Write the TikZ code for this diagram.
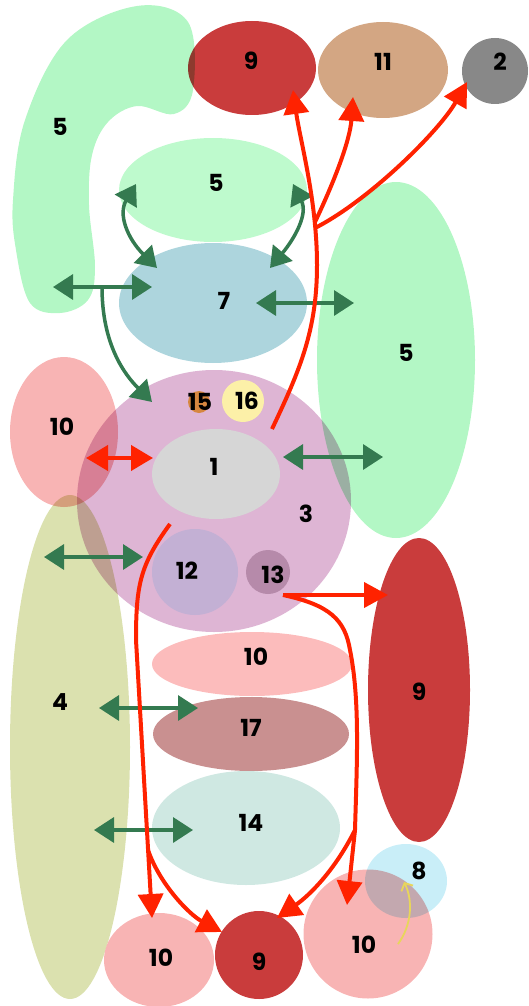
\documentclass[tikz,border=0pt]{standalone}
\usepackage{fontspec}
\setmainfont{Poppins}
\usetikzlibrary{shapes.geometric,arrows.meta}
\definecolor{mintA}{RGB}{179,247,197}
\definecolor{mintB}{RGB}{190,250,205}
\definecolor{redN}{RGB}{201,60,60}
\definecolor{tanN}{RGB}{211,166,131}
\definecolor{grayN}{RGB}{136,136,136}
\definecolor{blueN}{RGB}{173,213,221}
\definecolor{pinkN}{RGB}{248,180,180}
\definecolor{pinkM}{RGB}{252,188,188}
\definecolor{purpN}{RGB}{222,181,212}
\definecolor{yellN}{RGB}{252,240,168}
\definecolor{orgN}{RGB}{214,135,64}
\definecolor{lgrayN}{RGB}{214,214,214}
\definecolor{lavN}{RGB}{195,176,212}
\definecolor{mauvN}{RGB}{182,138,170}
\definecolor{roseN}{RGB}{201,144,144}
\definecolor{tealN}{RGB}{207,232,226}
\definecolor{oliveN}{RGB}{219,225,175}
\definecolor{skyN}{RGB}{201,238,248}
\definecolor{garrow}{RGB}{52,122,80}
\definecolor{rarrow}{RGB}{255,34,0}
\definecolor{yarrow}{RGB}{232,214,90}

\begin{document}
\begin{tikzpicture}[x=1pt,y=-1pt,
  region/.style={ellipse,inner sep=0pt},
  disc/.style={circle,inner sep=0pt},
  num/.style={font=\fontsize{23.5}{27}\selectfont\bfseries,inner sep=0pt},
  garr/.style={draw=garrow,line width=3.5pt,{Triangle[length=20pt,width=25pt]}-{Triangle[length=20pt,width=25pt]}},
  gone/.style={draw=garrow,line width=3.5pt,-{Triangle[length=20pt,width=25pt]}},
  rarr/.style={draw=rarrow,line width=4pt,-{Triangle[length=24pt,width=25pt]}},
  rtwo/.style={draw=rarrow,line width=4pt,{Triangle[length=22pt,width=25pt]}-{Triangle[length=22pt,width=25pt]}}]
  \useasboundingbox (0,0) rectangle (529,1006);

  % big overlapping areas
  \begin{scope}[blend mode=multiply]
    \fill[mintA] plot[smooth cycle,tension=0.6] coordinates {(67,40) (137,6) (188,22) (193,90) (174,114) (137,106) (108,122) (92,155) (89,205) (95,267) (88,300) (60,313) (30,303) (16,250) (13,200) (25,120)};
    \node[region,fill=redN,minimum width=128pt,minimum height=94pt] (nineTop) at (252,68) {};
    \node[region,fill=mintA,minimum width=158pt,minimum height=356pt] (fiveRight) at (396,360) {};
    \node[region,fill=purpN,minimum width=274pt,minimum height=262pt] (three) at (214,501) {};
    \node[region,fill=pinkN,minimum width=108pt,minimum height=150pt] (tenLeft) at (64,432) {};
    \node[region,fill=oliveN,minimum width=120pt,minimum height=504pt] (four) at (70,747) {};
    \node[disc,fill=pinkN,minimum size=129pt] (tenBR) at (368,934) {};
    \node[region,fill=skyN,minimum width=82pt,minimum height=74pt] (eight) at (406,881) {};
  \end{scope}

  % other areas
  \node[region,fill=tanN,minimum width=130pt,minimum height=96pt] (eleven) at (383,70) {};
  \node[disc,fill=grayN,minimum size=66pt] (two) at (495,71) {};
  \node[region,fill=mintB,minimum width=188pt,minimum height=104pt] (fiveMid) at (213,190) {};
  \node[region,fill=blueN,minimum width=188pt,minimum height=120pt] (seven) at (213,303) {};
  \node[disc,fill=yellN,minimum size=42pt] (sixteen) at (243,401) {};
  \node[disc,fill=orgN,minimum size=22pt] (fifteen) at (199,402) {};
  \node[region,fill=lgrayN,minimum width=128pt,minimum height=90pt] (one) at (216,474) {};
  \node[disc,fill=lavN,minimum size=86pt] (twelve) at (195,572) {};
  \node[disc,fill=mauvN,minimum size=44pt] (thirteen) at (268,572) {};
  \node[region,fill=redN,minimum width=102pt,minimum height=304pt] (nineRight) at (419,690) {};
  \node[region,fill=pinkM,minimum width=200pt,minimum height=64pt] (tenMid) at (252,664) {};
  \node[region,fill=roseN,minimum width=196pt,minimum height=74pt] (seventeen) at (251,734) {};
  \node[region,fill=tealN,minimum width=188pt,minimum height=114pt] (fourteen) at (246,828) {};
  \node[region,fill=pinkN,minimum width=110pt,minimum height=94pt] (tenBL) at (159,960) {};
  \node[disc,fill=redN,minimum size=88pt] (nineBot) at (259,955) {};

  % labels
  \node[num] (lNineTop) at (251,61) {9};
  \node[num] (lEleven) at (383,62) {11};
  \node[num] (lTwo) at (500,62) {2};
  \node[num] (lFiveLeft) at (60,127) {5};
  \node[num] (lFiveMid) at (216,183) {5};
  \node[num] (lSeven) at (224,301) {7};
  \node[num] (lFiveRight) at (406,353) {5};
  \node[num] (lTenLeft) at (62,427) {10};
  \node[num] (lFifteen) at (200,402) {15};
  \node[num] (lSixteen) at (247,401) {16};
  \node[num] (lOne) at (214,467) {1};
  \node[num] (lThree) at (306,514) {3};
  \node[num] (lTwelve) at (187,571) {12};
  \node[num] (lThirteen) at (273,575) {13};
  \node[num] (lTenMid) at (256,657) {10};
  \node[num] (lNineRight) at (419,692) {9};
  \node[num] (lFour) at (60,702) {4};
  \node[num] (lSeventeen) at (251,728) {17};
  \node[num] (lFourteen) at (251,823) {14};
  \node[num] (lEight) at (419,871) {8};
  \node[num] (lTenBR) at (364,945) {10};
  \node[num] (lTenBL) at (161,958) {10};
  \node[num] (lNineBot) at (259,962) {9};

  % arrow ends
  \foreach \n/\x/\y in {ga/136/184, gb/157/268, gc/293/184, gd/270/268,
      ge/53/287, gf/152/287, gg/102/287, gh/152/402, gi/256/303, gj/354/303,
      gk/283/457, gl/383/457, gm/44/557, gn/143/557, go/99/708, gp/198/708,
      gq/94/830, gr/193/830,
      ra/86/458, rb/153/458, rc/272/429, rd/317/265, re/293/90,
      rf/315/222, rg/353/97, rh/315/228, ri/467/82,
      rj/170/524, rk/136/640, rl/152/918, rm/148/850, rn/222/932,
      ro/283/595, rp/388/595, rq/355/830, rr/347/905, rs/277/918,
      ya/398/944, yb/404/882}
    \coordinate (\n) at (\x,\y);

  % green links
  \draw[garr] (ga) .. controls +(-18,30) and +(-30,-30) .. (gb);
  \draw[garr] (gc) .. controls +(15,30) and +(25,-30) .. (gd);
  \draw[garr] (ge) -- (gf);
  \draw[gone] (gg) .. controls +(0,58) and +(-27,-27) .. (gh);
  \draw[garr] (gi) -- (gj);
  \draw[garr] (gk) -- (gl);
  \draw[garr] (gm) -- (gn);
  \draw[garr] (go) -- (gp);
  \draw[garr] (gq) -- (gr);

  % red links
  \draw[rtwo] (ra) -- (rb);
  \draw[rarr] (rc) .. controls (300,370) and (317,330) .. (rd) .. controls (317,200) and (300,140) .. (re);
  \draw[rarr] (rf) .. controls (335,180) and (350,140) .. (rg);
  \draw[rarr] (rh) .. controls (370,200) and (440,130) .. (ri);
  \draw[rarr] (rj) .. controls (140,565) and (136,585) .. (rk) -- (rl);
  \draw[rarr] (rm) .. controls (160,885) and (190,915) .. (rn);
  \draw[rarr] (ro) -- (rp);
  \draw[rarr] (ro) .. controls (330,605) and (345,620) .. (350,650) .. controls (360,700) and (357,760) .. (rq) -- (rr);
  \draw[rarr] (rq) .. controls (335,870) and (310,895) .. (rs);

  % yellow link
  \draw[draw=yarrow,line width=1.8pt,-{Straight Barb[length=6pt,width=13pt]}] (ya) .. controls (412,925) and (413,900) .. (yb);
\end{tikzpicture}
\end{document}
